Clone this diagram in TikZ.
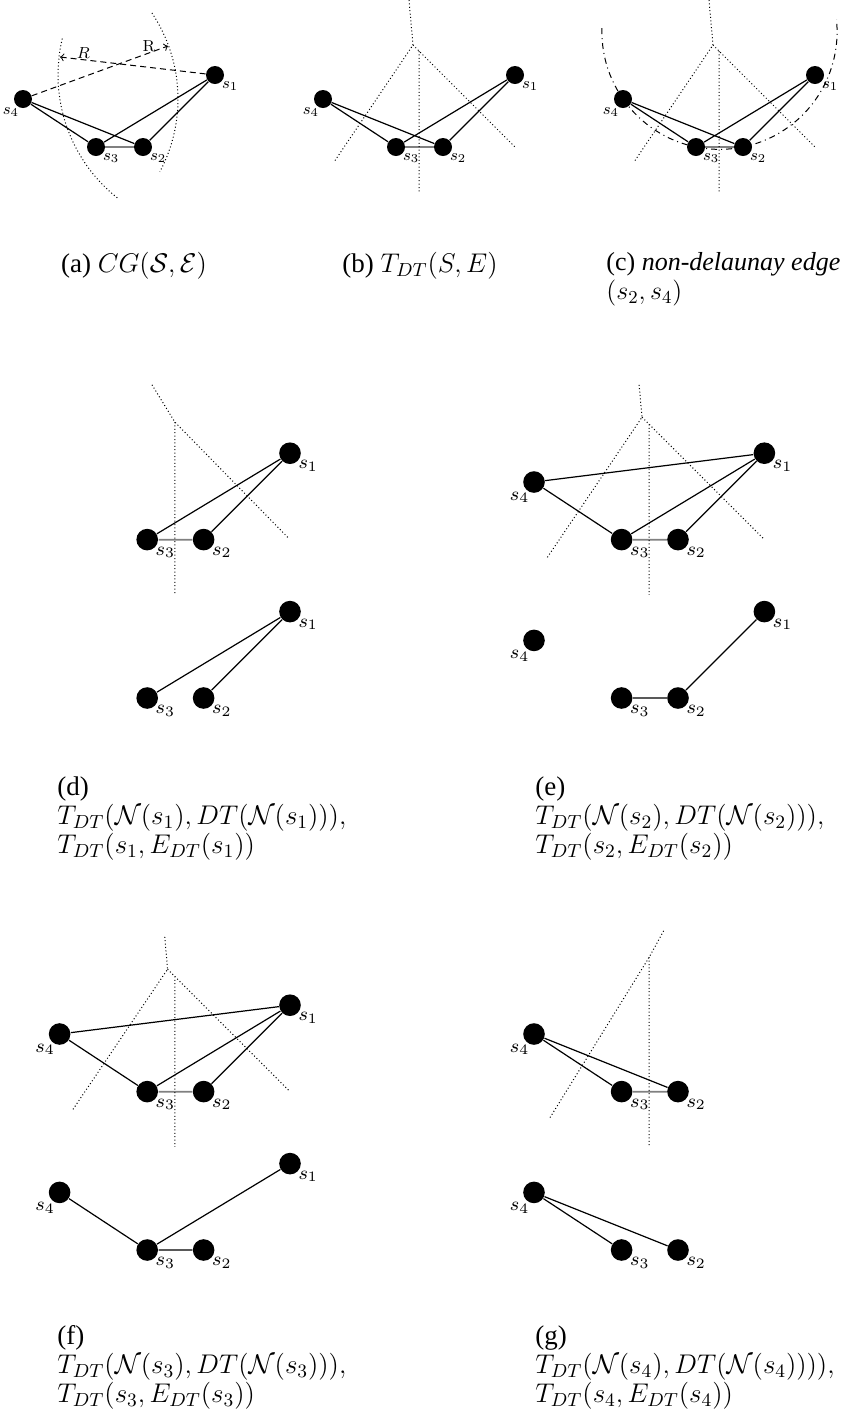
\RequirePackage{fix-cm}
\documentclass[tikz,border=0pt]{standalone}
\usepackage{amsmath,amssymb}
\usepackage[no-math]{fontspec}
\setmainfont{Liberation Serif}
\usetikzlibrary{arrows}
\tikzset{site/.style={circle,fill,inner sep=0pt,minimum size=9pt},
  lbl/.style={inner sep=0.5pt,label distance=-1pt,font=\fontsize{8}{9}\selectfont},
  edg/.style={line width=0.6pt},
  flip/.style={draw=gray,line width=0.9pt},
  vor/.style={line width=0.5pt,dash pattern=on 0.5pt off 1.2pt},
  rad/.style={line width=0.5pt,dash pattern=on 3pt off 2pt,->},
  capt/.style={anchor=north west,inner sep=0pt,align=left,font=\fontsize{13.5}{14.5}\selectfont}}

% sites of one drawing: prefix, list of number/x/y/label angle
\newcommand{\sites}[2]{\foreach \n/\x/\y/\a in {#2}
  \node[site,label={[lbl]\a:$s_{\n}$}] (#1\n) at (\x,\y) {};}

\begin{document}
\begin{tikzpicture}[x=0.5pt,y=-0.5pt]
\useasboundingbox (0,0) rectangle (846,1420);

% (a) complete graph, radius R around s1 and s4
\sites{a}{1/215/75/-40, 2/143/147/-40, 3/96/147/-40, 4/23/99/-110}
\draw[edg] (a4) -- (a3) (a4) -- (a2) (a3) -- (a1) (a2) -- (a1);
\draw[flip] (a3) -- (a2);
\coordinate (ra) at (168,46);
\coordinate (rb) at (60,57);
\draw[rad] (a4) -- (ra) node[lbl,pos=0.86,above] {$\mathrm{R}$};
\draw[rad] (a1) -- (rb) node[lbl,pos=0.84,above] {$R$};
\draw[vor] (215,75) ++(193.4:157) arc[start angle=193.4,end angle=128.3,radius=157];
\draw[vor] (23,99) ++(-33.7:155) arc[start angle=-33.7,end angle=28,radius=155];
\node[capt,anchor=north] (capa) at (134,252) {(a) $CG(\mathcal{S},\mathcal{E})$};

% (b) delaunay triangulation
\begin{scope}[shift={(300,0)}]
\sites{b}{1/215/75/-40, 2/143/147/-40, 3/96/147/-40, 4/23/99/-110}
\draw[edg] (b4) -- (b3) (b4) -- (b2) (b3) -- (b1) (b2) -- (b1);
\draw[flip] (b3) -- (b2);
\draw[vor] (109,0) -- (113,45) -- (34,162) (113,45) -- (215,147) (119,51) -- (119,193);
\end{scope}
\node[capt,anchor=north] (capb) at (420,252) {(b) $T_{DT}(S,E)$};

% (c) circumcircle of s2 s3 s4
\begin{scope}[shift={(600,0)}]
\sites{c}{1/215/75/-40, 2/143/147/-40, 3/96/147/-40, 4/23/99/-110}
\draw[edg] (c4) -- (c3) (c4) -- (c2) (c3) -- (c1) (c2) -- (c1);
\draw[flip] (c3) -- (c2);
\draw[vor] (109,0) -- (113,45) -- (34,162) (113,45) -- (215,147) (119,51) -- (119,193);
\draw[line width=0.5pt,dash dot] (119.5,31.75) ++(181.8:117.6) arc[start angle=181.8,end angle=-5.8,radius=117.6];
\end{scope}
\node[capt,font=\fontsize{13}{14.5}\selectfont] (capc) at (606,252) {(c) \textit{non-delaunay edge}\\$(s_2,s_4)$};

% (d) neighbourhood of s1
\begin{scope}[shift={(32,363.2)},scale=1.2,transform shape]
\sites{d}{1/215/75/-40, 2/143/147/-40, 3/96/147/-40}
\draw[edg] (d3) -- (d1) (d2) -- (d1);
\draw[flip] (d3) -- (d2);
\draw[vor] (100,18) -- (119,49) -- (214,146) (119,49) -- (119,193);
\end{scope}
\begin{scope}[shift={(32,521.6)},scale=1.2,transform shape]
\sites{dl}{1/215/75/-40, 2/143/147/-40, 3/96/147/-40}
\draw[edg] (dl3) -- (dl1) (dl2) -- (dl1);
\end{scope}
\node[capt] (capd) at (57,776) {(d)\\$T_{DT}(\mathcal{N}(s_1),DT(\mathcal{N}(s_1))),$\\$T_{DT}(s_1,E_{DT}(s_1))$};

% (e) neighbourhood of s2
\begin{scope}[shift={(506.4,363.2)},scale=1.2,transform shape]
\sites{e}{1/215/75/-40, 2/143/147/-40, 3/96/147/-40, 4/23/99/-110}
\draw[edg] (e4) -- (e1) (e4) -- (e3) (e3) -- (e1) (e2) -- (e1);
\draw[flip] (e3) -- (e2);
\draw[vor] (110.6,18) -- (113,45) -- (34,162) (113,45) -- (215,147) (119,51) -- (119,193);
\end{scope}
\begin{scope}[shift={(506.4,521.6)},scale=1.2,transform shape]
\sites{el}{1/215/75/-40, 2/143/147/-40, 3/96/147/-40, 4/23/99/-110}
\draw[edg] (el3) -- (el2) (el2) -- (el1);
\end{scope}
\node[capt] (cape) at (535,776) {(e)\\$T_{DT}(\mathcal{N}(s_2),DT(\mathcal{N}(s_2))),$\\$T_{DT}(s_2,E_{DT}(s_2))$};

% (f) neighbourhood of s3
\begin{scope}[shift={(32,915.2)},scale=1.2,transform shape]
\sites{f}{1/215/75/-40, 2/143/147/-40, 3/96/147/-40, 4/23/99/-110}
\draw[edg] (f4) -- (f1) (f4) -- (f3) (f3) -- (f1) (f2) -- (f1);
\draw[flip] (f3) -- (f2);
\draw[vor] (110.6,18) -- (113,45) -- (34,162) (113,45) -- (215,147) (119,51) -- (119,193);
\end{scope}
\begin{scope}[shift={(32,1073.6)},scale=1.2,transform shape]
\sites{fl}{1/215/75/-40, 2/143/147/-40, 3/96/147/-40, 4/23/99/-110}
\draw[edg] (fl4) -- (fl3) (fl3) -- (fl1) (fl3) -- (fl2);
\end{scope}
\node[capt] (capf) at (57,1325) {(f)\\$T_{DT}(\mathcal{N}(s_3),DT(\mathcal{N}(s_3))),$\\$T_{DT}(s_3,E_{DT}(s_3))$};

% (g) neighbourhood of s4
\begin{scope}[shift={(506.4,915.2)},scale=1.2,transform shape]
\sites{g}{2/143/147/-40, 3/96/147/-40, 4/23/99/-110}
\draw[edg] (g4) -- (g3) (g4) -- (g2);
\draw[flip] (g3) -- (g2);
\draw[vor] (131,13) -- (119,35) -- (35.5,170) (119,35) -- (119,192);
\end{scope}
\begin{scope}[shift={(506.4,1073.6)},scale=1.2,transform shape]
\sites{gl}{2/143/147/-40, 3/96/147/-40, 4/23/99/-110}
\draw[edg] (gl4) -- (gl3) (gl4) -- (gl2);
\end{scope}
\node[capt] (capg) at (535,1325) {(g)\\$T_{DT}(\mathcal{N}(s_4),DT(\mathcal{N}(s_4)))),$\\$T_{DT}(s_4,E_{DT}(s_4))$};
\end{tikzpicture}
\end{document}
